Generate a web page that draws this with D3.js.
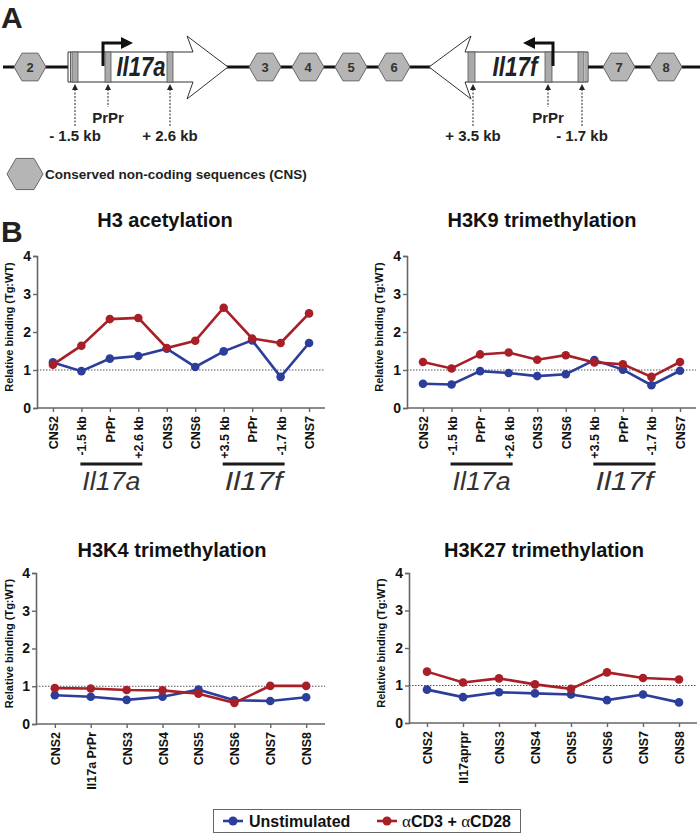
<!DOCTYPE html>
<html><head><meta charset="utf-8">
<script src="https://cdn.jsdelivr.net/npm/d3@7"></script>
<style>
body{margin:0;background:#fff;}
svg{display:block;font-family:"Liberation Sans",Arial,sans-serif;}
</style></head>
<body>
<svg id="fig" width="700" height="833"></svg>
<script>
// ---------- DATA ----------
const yTicks = [0, 1, 2, 3, 4];
const topCats = ["CNS2", "-1.5 kb", "PrPr", "+2.6 kb", "CNS3", "CNS6", "+3.5 kb", "PrPr", "-1.7 kb", "CNS7"];
const h3acUnstim = [1.20, 0.97, 1.30, 1.37, 1.56, 1.08, 1.49, 1.78, 0.82, 1.71];
const h3acStim   = [1.14, 1.64, 2.34, 2.37, 1.58, 1.77, 2.64, 1.83, 1.71, 2.49];
const h3k9Unstim = [0.64, 0.62, 0.97, 0.92, 0.84, 0.89, 1.26, 1.01, 0.60, 0.98];
const h3k9Stim   = [1.21, 1.04, 1.41, 1.46, 1.27, 1.39, 1.20, 1.15, 0.82, 1.21];
const k4Cats  = ["CNS2", "Il17a PrPr", "CNS3", "CNS4", "CNS5", "CNS6", "CNS7", "CNS8"];
const k27Cats = ["CNS2", "Il17aprpr", "CNS3", "CNS4", "CNS5", "CNS6", "CNS7", "CNS8"];
const h3k4Unstim  = [0.76, 0.72, 0.64, 0.72, 0.91, 0.63, 0.61, 0.71];
const h3k4Stim    = [0.95, 0.94, 0.90, 0.89, 0.80, 0.56, 1.01, 1.01];
const h3k27Unstim = [0.89, 0.69, 0.82, 0.79, 0.76, 0.61, 0.76, 0.55];
const h3k27Stim   = [1.37, 1.08, 1.19, 1.03, 0.91, 1.35, 1.20, 1.16];
const seriesNames = ["Unstimulated", "CD3 + ", "CD28"];
const cnsLabels = ["2", "3", "4", "5", "6", "7", "8"];

const BLUE = "#2c3e9a", RED = "#a81f28";
const svg = d3.select("#fig");

// ---------- PANEL A : gene locus ----------
const A = svg.append("g");
A.append("text").attr("x", 1).attr("y", 28).attr("font-size", 30).attr("font-weight", "bold").attr("fill", "#222").text("A");
A.append("text").attr("x", 1).attr("y", 242).attr("font-size", 30).attr("font-weight", "bold").attr("fill", "#222").text("B");

const lineY = 67;
A.append("line").attr("x1", 3).attr("x2", 700).attr("y1", lineY).attr("y2", lineY).attr("stroke", "#111").attr("stroke-width", 3.2);

function hexPath(cx, cy, r) {
  const pts = d3.range(6).map(i => {
    const a = Math.PI / 3 * i;
    return [cx + r * Math.cos(a), cy + r * Math.sin(a)];
  });
  return "M" + pts.map(p => p.join(",")).join("L") + "Z";
}
const hexX = [30, 265, 308, 351, 394, 619, 666];
cnsLabels.forEach((lab, i) => {
  A.append("path").attr("d", hexPath(hexX[i], lineY, 16)).attr("fill", "#b5b5b5").attr("stroke", "#666").attr("stroke-width", 1);
  A.append("text").attr("x", hexX[i]).attr("y", lineY + 5).attr("text-anchor", "middle").attr("font-size", 13).attr("font-weight", "bold").attr("fill", "#333").text(lab);
});

// Il17a arrow-box
A.append("path").attr("d", "M68,52L193,52L187,36L228,67L187,99L193,82L68,82Z").attr("fill", "#fff").attr("stroke", "#333").attr("stroke-width", 1);
A.append("line").attr("x1", 70.5).attr("x2", 70.5).attr("y1", 52).attr("y2", 82).attr("stroke", "#333").attr("stroke-width", 0.8);
[[72, 6], [105, 6], [167, 6]].forEach(([x, w]) => {
  A.append("rect").attr("x", x).attr("y", 52).attr("width", w).attr("height", 30).attr("fill", "#aaa").attr("stroke", "#555").attr("stroke-width", 0.8);
});
A.append("text").attr("x", 141).attr("y", 76).attr("text-anchor", "middle").attr("font-size", 27).attr("font-weight", "bold").attr("font-style", "italic").attr("fill", "#222")
  .attr("textLength", 49).attr("lengthAdjust", "spacingAndGlyphs").text("Il17a");
// promoter arrow
A.append("path").attr("d", "M103,66L103,43L124,43").attr("fill", "none").attr("stroke", "#111").attr("stroke-width", 3);
A.append("path").attr("d", "M133,43L121,37L121,49Z").attr("fill", "#111");

// Il17f arrow-box
A.append("path").attr("d", "M588,52L465,52L471,36L429,67L471,99L465,82L588,82Z").attr("fill", "#fff").attr("stroke", "#333").attr("stroke-width", 1);
A.append("line").attr("x1", 586).attr("x2", 586).attr("y1", 52).attr("y2", 82).attr("stroke", "#333").attr("stroke-width", 0.8);
[[468, 7], [545, 7], [578, 6]].forEach(([x, w]) => {
  A.append("rect").attr("x", x).attr("y", 52).attr("width", w).attr("height", 30).attr("fill", "#aaa").attr("stroke", "#555").attr("stroke-width", 0.8);
});
A.append("text").attr("x", 515).attr("y", 76).attr("text-anchor", "middle").attr("font-size", 27).attr("font-weight", "bold").attr("font-style", "italic").attr("fill", "#222")
  .attr("textLength", 45).attr("lengthAdjust", "spacingAndGlyphs").text("Il17f");
A.append("path").attr("d", "M553,66L553,43L533,43").attr("fill", "none").attr("stroke", "#111").attr("stroke-width", 3);
A.append("path").attr("d", "M523,43L535,37L535,49Z").attr("fill", "#111");

// dashed site arrows
const sites = [
  {x: 75, y2: 127, lab: "- 1.5 kb", ly: 141},
  {x: 108, y2: 107, lab: "PrPr", ly: 123},
  {x: 170, y2: 127, lab: "+ 2.6 kb", ly: 141},
  {x: 473, y2: 127, lab: "+ 3.5 kb", ly: 141},
  {x: 548, y2: 107, lab: "PrPr", ly: 123},
  {x: 582, y2: 127, lab: "- 1.7 kb", ly: 141}
];
sites.forEach(s => {
  A.append("line").attr("x1", s.x).attr("x2", s.x).attr("y1", 89).attr("y2", s.y2).attr("stroke", "#222").attr("stroke-width", 1).attr("stroke-dasharray", "2,1.5");
  A.append("path").attr("d", `M${s.x},84L${s.x - 3},90L${s.x + 3},90Z`).attr("fill", "#222");
  A.append("text").attr("x", s.x).attr("y", s.ly).attr("text-anchor", "middle").attr("font-size", 15).attr("font-weight", "bold").attr("fill", "#222").text(s.lab);
});

// CNS legend
A.append("path").attr("d", hexPath(25, 174, 18)).attr("fill", "#b5b5b5").attr("stroke", "#666").attr("stroke-width", 1);
A.append("text").attr("x", 45).attr("y", 179).attr("font-size", 13.5).attr("font-weight", "bold").attr("fill", "#222").text("Conserved non-coding sequences (CNS)");

// ---------- PANEL B : line charts ----------
function chart(cfg) {
  const g = svg.append("g");
  const n = cfg.cats.length;
  const x = d3.scalePoint().domain(d3.range(n)).range([cfg.x0, cfg.x1]).padding(cfg.pad);
  const y = d3.scaleLinear().domain([0, 4]).range([cfg.yb, cfg.yt]);

  g.append("text").attr("x", cfg.tx).attr("y", cfg.ty).attr("text-anchor", "middle").attr("font-size", 20).attr("font-weight", "bold").attr("fill", "#111").text(cfg.title);

  const ya = g.append("g").attr("transform", `translate(${cfg.x0},0)`)
    .call(d3.axisLeft(y).tickValues(yTicks).tickFormat(d3.format("d")).tickSize(4).tickPadding(2));
  ya.select(".domain").attr("stroke", "#666").attr("stroke-width", 1.6);
  ya.selectAll(".tick line").attr("stroke", "#666").attr("stroke-width", 1.4);
  ya.selectAll("text").attr("font-size", 14).attr("font-weight", "bold").attr("fill", "#111").attr("font-family", "Liberation Sans, Arial, sans-serif");

  const xa = g.append("g").attr("transform", `translate(0,${cfg.yb})`)
    .call(d3.axisBottom(x).tickFormat(i => cfg.cats[i]).tickSize(4).tickSizeOuter(0));
  xa.select(".domain").attr("stroke", "#666").attr("stroke-width", 1.6).attr("d", `M${cfg.x0},0H${cfg.x1}`);
  xa.selectAll(".tick line").attr("stroke", "#666").attr("stroke-width", 1.4);
  xa.selectAll("text").attr("font-size", 12.5).attr("font-weight", "bold").attr("fill", "#111")
    .attr("font-family", "Liberation Sans, Arial, sans-serif")
    .attr("transform", "rotate(-90)").attr("text-anchor", "end").attr("x", -8).attr("y", 0).attr("dy", "0.36em");

  g.append("text").attr("transform", `translate(${cfg.lx},${(cfg.yt + cfg.yb) / 2 - 5}) rotate(-90)`)
    .attr("text-anchor", "middle").attr("font-size", 11).attr("font-weight", "bold").attr("fill", "#111").text("Relative binding (Tg:WT)");

  g.append("line").attr("x1", cfg.x0).attr("x2", cfg.x1).attr("y1", y(1)).attr("y2", y(1))
    .attr("stroke", "#555").attr("stroke-width", 1).attr("stroke-dasharray", "1.5,1.5");

  const line = d3.line().x((d, i) => x(i)).y(d => y(d));
  [[cfg.u, BLUE], [cfg.s, RED]].forEach(([vals, col]) => {
    g.append("path").datum(vals).attr("d", line).attr("fill", "none").attr("stroke", col).attr("stroke-width", 2.6);
    g.selectAll(null).data(vals).enter().append("circle")
      .attr("cx", (d, i) => x(i)).attr("cy", d => y(d)).attr("r", 4.3).attr("fill", col);
  });

  if (cfg.genes) {
    cfg.genes.forEach(gn => {
      const a = x(gn.from) - 1, b = x(gn.to) + 4;
      g.append("line").attr("x1", a).attr("x2", b).attr("y1", 464).attr("y2", 464).attr("stroke", "#1a1a1a").attr("stroke-width", 3);
      g.append("text").attr("x", (a + b) / 2).attr("y", 490).attr("text-anchor", "middle").attr("font-size", 26).attr("font-style", "italic").attr("fill", "#333")
        .attr("textLength", 58).attr("lengthAdjust", "spacingAndGlyphs").text(gn.name);
    });
  }
}
const genes = [{name: "Il17a", from: 1, to: 3}, {name: "Il17f", from: 6, to: 8}];
chart({title: "H3 acetylation", tx: 165, ty: 227, cats: topCats, u: h3acUnstim, s: h3acStim, x0: 37, x1: 325, yt: 256, yb: 408, pad: 0.56, lx: 13, genes});
chart({title: "H3K9 trimethylation", tx: 542, ty: 227, cats: topCats, u: h3k9Unstim, s: h3k9Stim, x0: 407, x1: 696, yt: 256, yb: 408, pad: 0.56, lx: 383, genes});
chart({title: "H3K4 trimethylation", tx: 172, ty: 557, cats: k4Cats, u: h3k4Unstim, s: h3k4Stim, x0: 36, x1: 325, yt: 573, yb: 724, pad: 0.525, lx: 13});
chart({title: "H3K27 trimethylation", tx: 544, ty: 557, cats: k27Cats, u: h3k27Unstim, s: h3k27Stim, x0: 409, x1: 697, yt: 573, yb: 723, pad: 0.5, lx: 385});

// ---------- LEGEND ----------
const L = svg.append("g");
L.append("rect").attr("x", 213.5).attr("y", 809.5).attr("width", 307).attr("height", 23).attr("fill", "#fff").attr("stroke", "#666").attr("stroke-width", 1);
[[233, BLUE], [387, RED]].forEach(([cx, col]) => {
  L.append("line").attr("x1", cx - 10).attr("x2", cx + 10).attr("y1", 821).attr("y2", 821).attr("stroke", col).attr("stroke-width", 2.6);
  L.append("circle").attr("cx", cx).attr("cy", 821).attr("r", 4.5).attr("fill", col);
});
L.append("text").attr("x", 249).attr("y", 826.5).attr("font-size", 16).attr("font-weight", "bold").attr("fill", "#111").text(seriesNames[0]);
const t2 = L.append("text").attr("x", 402).attr("y", 826.5).attr("font-size", 16).attr("font-weight", "bold").attr("fill", "#111");
t2.append("tspan").attr("font-family", "Liberation Serif, serif").attr("font-weight", "normal").attr("font-size", 17).text("\u03b1");
t2.append("tspan").text(seriesNames[1]);
t2.append("tspan").attr("font-family", "Liberation Serif, serif").attr("font-weight", "normal").attr("font-size", 17).text("\u03b1");
t2.append("tspan").text(seriesNames[2]);
</script>
</body></html>
